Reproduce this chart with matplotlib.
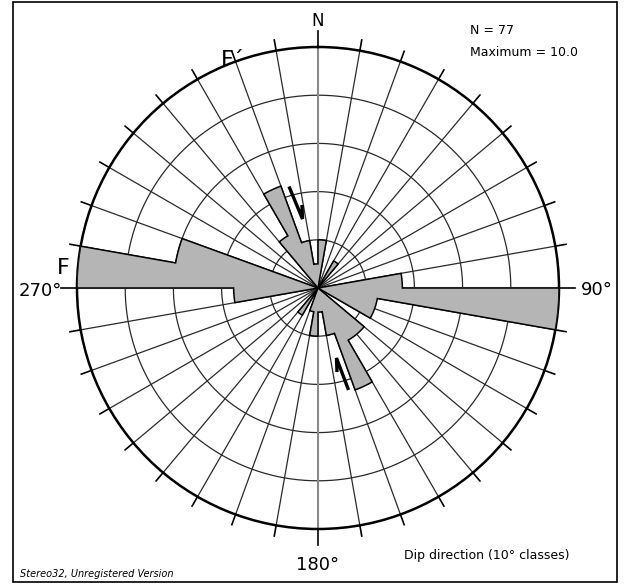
"""
Rose diagram of dip directions (10 degree classes), Stereo32 style.
"""

import numpy as np
import matplotlib
matplotlib.use("Agg")
import matplotlib.pyplot as plt

# class starts (azimuth, clockwise from N) and values
class_start = np.arange(0, 360, 10)
class_value = [
    2.0, 0.0, 0.0, 1.3, 0.0, 0.0, 0.0, 0.0, 3.5,   # 0-90
    10.0, 2.5, 2.5, 0.0, 2.5, 2.5, 4.5, 2.0, 1.0,  # 90-180
    2.0, 1.0, 0.0, 1.3, 0.0, 0.0, 0.0, 0.0, 3.5,   # 180-270
    10.0, 6.0, 0.0, 0.0, 0.0, 2.5, 4.5, 2.0, 1.0,  # 270-360
]
ring_values = [2, 4, 6, 8]
max_value = 10.0
n_total = 77

W, H = 624, 585
CX, CY, R = 318, 288, 241
GREY = "#b5b5b5"


def rose_outline(starts, values, width=10, steps=12):
    """Step outline of the petals, sampled along each arc."""
    th, rr = [], []
    for s, v in zip(starts, values):
        t = np.radians(np.linspace(s, s + width, steps))
        th.extend(t)
        rr.extend([v] * steps)
    return np.array(th), np.array(rr)


fig = plt.figure(figsize=(W / 100, H / 100), dpi=100)

ax = fig.add_axes([(CX - R) / W, (H - CY - R) / H, 2 * R / W, 2 * R / H],
                  projection="polar")
ax.set_theta_zero_location("N")
ax.set_theta_direction(-1)
ax.set_ylim(0, max_value)
ax.grid(False)
ax.set_xticks([])
ax.set_yticks([])
ax.patch.set_alpha(0)
ax.spines["polar"].set_linewidth(1.8)
ax.spines["polar"].set_color("black")

full = np.radians(np.linspace(0, 360, 361))
for rv in ring_values:
    ax.plot(full, np.full_like(full, rv), color="#2a2a2a", lw=0.9, zorder=1)

for a in class_start:
    t = np.radians(a)
    if a % 90 == 0:
        ax.plot([t, t], [0, max_value], color="#8a8a8a", lw=1.5, zorder=1)
        ax.plot([t, t], [max_value, max_value * 1.065], color="black", lw=1.2,
                zorder=1, clip_on=False)
    else:
        ax.plot([t, t], [0, max_value], color="#2a2a2a", lw=0.9, zorder=1)
        ax.plot([t, t], [max_value, max_value * 1.045], color="black", lw=1.2,
                zorder=1, clip_on=False)

th, rr = rose_outline(class_start, class_value)
ax.fill(th, rr, facecolor=GREY, edgecolor="black", lw=1.1, zorder=3)

# overlay in pixel coordinates for frame, labels and the fault marks
ov = fig.add_axes([0, 0, 1, 1], zorder=5)
ov.set_xlim(0, W)
ov.set_ylim(H, 0)
ov.axis("off")
ov.patch.set_alpha(0)

ov.add_patch(plt.Rectangle((13, 2), 604, 580, fill=False, ec="black", lw=1.2))

ov.text(CX, 21, "N", ha="center", va="center", fontsize=12)
ov.text(62, 291, "270°", ha="right", va="center", fontsize=13)
ov.text(581, 290, "90°", ha="left", va="center", fontsize=13)
ov.text(CX, 565, "180°", ha="center", va="center", fontsize=13)
ov.text(63, 268, "F", ha="center", va="center", fontsize=16)
ov.text(233, 60, "F\u00b4", ha="center", va="center", fontsize=16)
ov.text(470, 30, f"N = {n_total}", ha="left", va="center", fontsize=9)
ov.text(470, 52, f"Maximum = {max_value:.1f}", ha="left", va="center", fontsize=9)
ov.text(487, 555, "Dip direction (10° classes)", ha="center", va="center", fontsize=9)
ov.text(20, 574, "Stereo32, Unregistered Version", ha="left", va="center",
        fontsize=7, style="italic")

# half-arrow shear marks along the fault
ov.plot([289, 302.5, 302], [186.5, 219, 205], color="black", lw=2.4,
        solid_joinstyle="miter", solid_capstyle="butt")
ov.plot([348.5, 336.5, 337], [390, 358, 372], color="black", lw=2.4,
        solid_joinstyle="miter", solid_capstyle="butt")

fig.savefig("out.png", dpi=100)
